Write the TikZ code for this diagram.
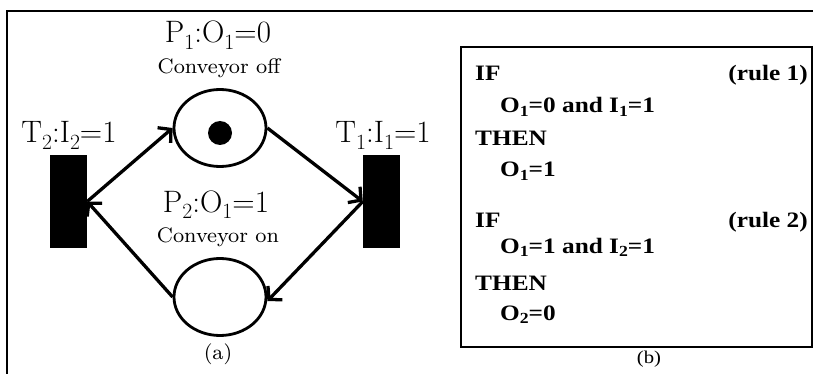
\documentclass[tikz,border=0pt]{standalone}
\usepackage{graphicx}
\usepackage{fontspec}
\newfontfamily\rulefont[FakeStretch=1.15]{Liberation Serif}
\newfontfamily\smallcm{lmroman8-regular.otf}
\usetikzlibrary{shapes.geometric,arrows.meta}
\newcommand\lsub[1]{\raisebox{-0.45ex}{\scalebox{0.7}{#1}}}
\newcommand\rsub[1]{\raisebox{-0.35ex}{\scalebox{0.7}{#1}}}
\tikzset{
  trans/.style={fill=black,minimum width=37pt,minimum height=93pt,inner sep=0pt},
  place/.style={draw,ellipse,line width=2.8pt,minimum width=92pt,minimum height=77pt,inner sep=0pt},
  arc/.style={line width=3.3pt,-{Straight Barb[length=9pt,width=20pt]}},
  biglbl/.style={font=\fontsize{31}{35}\selectfont,inner sep=0pt},
  smalllbl/.style={font=\smallcm\fontsize{21}{24}\selectfont,inner sep=0pt},
  rulelbl/.style={font=\rulefont\bfseries\fontsize{22}{26}\selectfont,inner sep=0pt,anchor=base west}
}
\begin{document}
\begin{tikzpicture}[x=1pt,y=-1pt]
  \useasboundingbox (0,0) rectangle (813,374);
  % frame
  \draw[line width=1.3pt] (7,374) -- (7,11) -- (813,11);
  % (a) net
  \node[trans] (t2) at (68.5,201.5) {};
  \node[trans] (t1) at (381.5,201.5) {};
  \node[place] (p1) at (220,128) {};
  \node[place] (p2) at (220,297) {};
  \node[circle,fill=black,minimum size=24pt,inner sep=0pt] (tok) at (220,133) {};
  \node[biglbl,anchor=base] (p1lbl) at (218,43) {P\lsub{1}:O\lsub{1}=0};
  \node[smalllbl,anchor=base] (p1txt) at (219,74) {Conveyor off};
  \node[biglbl,anchor=base] (p2lbl) at (216,212) {P\lsub{2}:O\lsub{1}=1};
  \node[smalllbl,anchor=base] (p2txt) at (218,242) {Conveyor on};
  \node[biglbl,anchor=base] (t2lbl) at (69,143) {T\lsub{2}:I\lsub{2}=1};
  \node[biglbl,anchor=base] (t1lbl) at (383,143) {T\lsub{1}:I\lsub{1}=1};
  \draw[arc] (t2.east) -- (p1.west);
  \draw[arc] (p1.east) -- (t1.west);
  \draw[arc] (t1.west) -- ([yshift=-4pt]p2.east);
  \draw[arc] (p2.west) -- (t2.east);
  \node[smalllbl,anchor=base] (capa) at (218,359) {(a)};
  % (b) rules
  \draw[line width=1.5pt] (461,47) rectangle (812,347);
  \node[rulelbl] (if1) at (475,81) {IF};
  \node[rulelbl,anchor=base east] (r1) at (808,81) {(rule 1)};
  \node[rulelbl] (c1) at (500,113) {O\rsub{1}=0 and I\rsub{1}=1};
  \node[rulelbl] (th1) at (475,146) {THEN};
  \node[rulelbl] (a1) at (500,177) {O\rsub{1}=1};
  \node[rulelbl] (if2) at (475,227) {IF};
  \node[rulelbl,anchor=base east] (r2) at (808,227) {(rule 2)};
  \node[rulelbl] (c2) at (500,253) {O\rsub{1}=1 and I\rsub{2}=1};
  \node[rulelbl] (th2) at (475,290) {THEN};
  \node[rulelbl] (a2) at (500,320) {O\rsub{2}=0};
  \node[smalllbl,anchor=base,font=\rulefont\fontsize{18}{20}\selectfont] (capb) at (649,363) {(b)};
\end{tikzpicture}
\end{document}
